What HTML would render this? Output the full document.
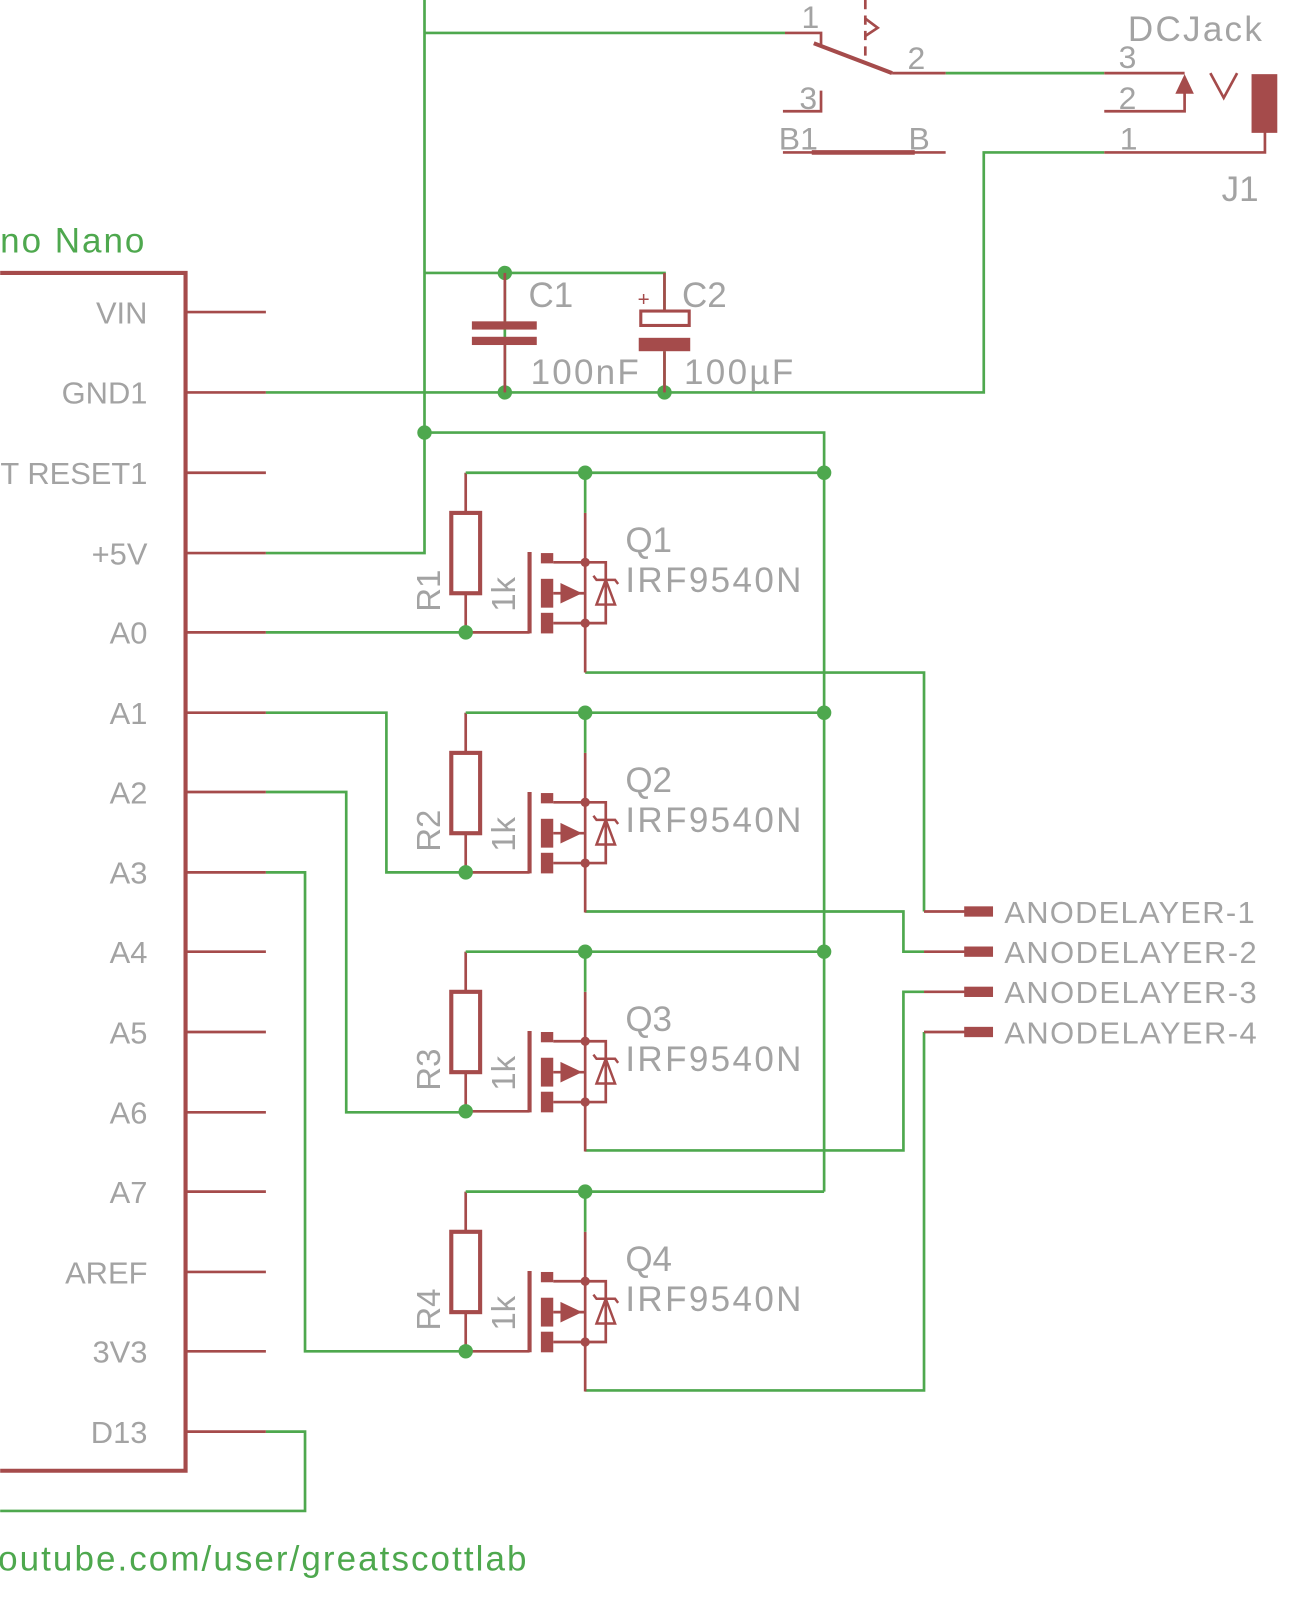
<!DOCTYPE html>
<html><head><meta charset="utf-8"><style>
html,body{margin:0;padding:0;background:#fff;width:1296px;height:1617px;overflow:hidden}
svg{display:block}
text{font-family:"Liberation Sans",sans-serif;fill:#a3a3a3}
.g{fill:#4ea84e}
</style></head><body>
<svg width="1296" height="1617" viewBox="0 0 1258 1570" xmlns="http://www.w3.org/2000/svg">
<defs>
<g id="q">
  <line x1="452" y1="0" x2="452" y2="39" stroke="#a54b4b" stroke-width="2.6"/>
  <rect x="438" y="39" width="28" height="78" fill="none" stroke="#a54b4b" stroke-width="4"/>
  <line x1="452" y1="117" x2="452" y2="155" stroke="#a54b4b" stroke-width="2.6"/>
  <line x1="452" y1="155" x2="514" y2="155" stroke="#a54b4b" stroke-width="2.6"/>
  <line x1="514" y1="77" x2="514" y2="156" stroke="#a54b4b" stroke-width="4"/>
  <rect x="525" y="78" width="12" height="10" fill="#a54b4b"/>
  <rect x="525" y="103" width="12" height="28" fill="#a54b4b"/>
  <rect x="525" y="136" width="12" height="20" fill="#a54b4b"/>
  <polyline points="537,87 568,87" stroke="#a54b4b" stroke-width="2.6" fill="none"/>
  <polyline points="537,146 568,146" stroke="#a54b4b" stroke-width="2.6" fill="none"/>
  <line x1="537" y1="117" x2="568" y2="117" stroke="#a54b4b" stroke-width="2.6"/>
  <polygon points="544,107 544,127 565,117" fill="#a54b4b"/>
  <line x1="568" y1="39" x2="568" y2="194" stroke="#a54b4b" stroke-width="2.6"/>
  <polyline points="568,87 588,87 588,146 568,146" stroke="#a54b4b" stroke-width="2.6" fill="none"/>
  <polygon points="588,104 579,128 597,128" fill="none" stroke="#a54b4b" stroke-width="2.4"/>
  <polyline points="576,100 579,104 597,104 600,108" stroke="#a54b4b" stroke-width="2.4" fill="none"/>
  <circle cx="568" cy="87" r="4.5" fill="#a54b4b"/>
  <circle cx="568" cy="146" r="4.5" fill="#a54b4b"/>
  <line x1="568" y1="0" x2="568" y2="39" stroke="#4ea84e" stroke-width="2.6"/>
  <line x1="452" y1="0" x2="800" y2="0" stroke="#4ea84e" stroke-width="2.6"/>
  <circle cx="568" cy="0" r="7" fill="#4ea84e"/>
  <circle cx="452" cy="155" r="7" fill="#4ea84e"/>
</g>
</defs>

<polyline points="0,265 180,265 180,1428 0,1428" fill="none" stroke="#a54b4b" stroke-width="4"/>
<text x="0" y="245" class="g" font-size="34" textLength="140">no Nano</text>
<g stroke="#a54b4b" stroke-width="2.6">
<line x1="180" y1="303" x2="258" y2="303"/><line x1="180" y1="381" x2="258" y2="381"/>
<line x1="180" y1="459" x2="258" y2="459"/><line x1="180" y1="537" x2="258" y2="537"/>
<line x1="180" y1="614" x2="258" y2="614"/><line x1="180" y1="692" x2="258" y2="692"/>
<line x1="180" y1="769" x2="258" y2="769"/><line x1="180" y1="847" x2="258" y2="847"/>
<line x1="180" y1="924" x2="258" y2="924"/><line x1="180" y1="1002" x2="258" y2="1002"/>
<line x1="180" y1="1080" x2="258" y2="1080"/><line x1="180" y1="1157" x2="258" y2="1157"/>
<line x1="180" y1="1235" x2="258" y2="1235"/><line x1="180" y1="1312" x2="258" y2="1312"/>
<line x1="180" y1="1390" x2="258" y2="1390"/>
</g>
<g font-size="30" text-anchor="end">
<text x="143" y="314">VIN</text><text x="143" y="392">GND1</text><text x="143" y="470">T RESET1</text>
<text x="143" y="548">+5V</text><text x="143" y="625">A0</text><text x="143" y="703">A1</text>
<text x="143" y="780">A2</text><text x="143" y="858">A3</text><text x="143" y="935">A4</text>
<text x="143" y="1013">A5</text><text x="143" y="1091">A6</text><text x="143" y="1168">A7</text>
<text x="143" y="1246">AREF</text><text x="143" y="1323">3V3</text><text x="143" y="1401">D13</text>
</g>

<g stroke="#4ea84e" stroke-width="2.6" fill="none">
<polyline points="258,537 412,537 412,0"/>
<polyline points="412,32 762,32"/>
<polyline points="412,420 800,420 800,1157"/>
<polyline points="412,265 645,265 645,302"/>
<polyline points="258,381 955,381 955,148 1072,148"/>
<line x1="490" y1="265" x2="490" y2="381"/>
<line x1="645" y1="341" x2="645" y2="381"/>
<polyline points="918,71 1072,71"/>
<polyline points="258,614 452,614"/>
<polyline points="258,692 375,692 375,847 452,847"/>
<polyline points="258,769 336,769 336,1080 452,1080"/>
<polyline points="258,847 296,847 296,1312 452,1312"/>
<polyline points="258,1390 296,1390 296,1467 0,1467"/>
<polyline points="568,653 897,653 897,885"/>
<polyline points="568,885 877,885 877,924 897,924"/>
<polyline points="568,1117 877,1117 877,963 897,963"/>
<polyline points="568,1350 897,1350 897,1002"/>
</g>
<g fill="#4ea84e">
<circle cx="412" cy="420" r="7"/><circle cx="490" cy="265" r="7"/><circle cx="490" cy="381" r="7"/>
<circle cx="645" cy="381" r="7"/><circle cx="800" cy="459" r="7"/><circle cx="800" cy="692" r="7"/>
<circle cx="800" cy="924" r="7"/>
</g>

<g fill="#a54b4b">
<rect x="458" y="312" width="63" height="8"/><rect x="458" y="327" width="63" height="8"/>
<rect x="620" y="328" width="50" height="13"/>
</g>
<line x1="490" y1="265" x2="490" y2="312" stroke="#a54b4b" stroke-width="2.6"/>
<line x1="490" y1="335" x2="490" y2="381" stroke="#a54b4b" stroke-width="2.6"/>
<line x1="645" y1="265" x2="645" y2="302" stroke="#a54b4b" stroke-width="2.6"/>
<line x1="645" y1="341" x2="645" y2="381" stroke="#a54b4b" stroke-width="2.6"/>
<rect x="622" y="302" width="47" height="14" fill="none" stroke="#a54b4b" stroke-width="3"/>
<text x="619" y="297" font-size="20" style="fill:#a54b4b">+</text>
<text x="513" y="298" font-size="34">C1</text>
<text x="515" y="373" font-size="34" textLength="105">100nF</text>
<text x="662" y="298" font-size="34">C2</text>
<text x="664" y="373" font-size="34" textLength="106">100µF</text>

<g stroke="#a54b4b" stroke-width="2.6" fill="none">
<polyline points="762,32 797,32 797,46"/>
<line x1="790" y1="42" x2="866" y2="71" stroke-width="4"/>
<line x1="866" y1="71" x2="918" y2="71"/>
<line x1="840" y1="0" x2="840" y2="58" stroke-dasharray="9,6"/>
<polyline points="840,18 852,27 840,35"/>
<polyline points="760,108 797,108 797,88"/>
<line x1="760" y1="148" x2="918" y2="148"/>
<line x1="788" y1="148" x2="888" y2="148" stroke-width="4.5"/>
<line x1="1072" y1="71" x2="1150" y2="71"/>
<polyline points="1175,71 1188,95 1201,71"/>
<polyline points="1072,108 1150,108 1150,90"/>
<polyline points="1072,148 1228,148 1228,128"/>
</g>
<polygon points="1150,72 1141,91 1159,91" fill="#a54b4b"/>
<rect x="1215" y="72" width="25" height="57" fill="#a54b4b"/>
<g font-size="31">
<text x="778" y="27">1</text><text x="776" y="106">3</text><text x="756" y="145">B1</text>
<text x="882" y="145">B</text><text x="881" y="67">2</text>
<text x="1086" y="66">3</text><text x="1086" y="106">2</text><text x="1087" y="145">1</text>
</g>
<text x="1095" y="40" font-size="34" textLength="130">DCJack</text>
<text x="1186" y="195" font-size="34">J1</text>

<use href="#q" transform="translate(0,459)"/>
<use href="#q" transform="translate(0,692)"/>
<use href="#q" transform="translate(0,924)"/>
<use href="#q" transform="translate(0,1157)"/>
<g font-size="34">
<text x="607" y="536">Q1</text><text x="607" y="575" textLength="171">IRF9540N</text>
<text x="607" y="769">Q2</text><text x="607" y="808" textLength="171">IRF9540N</text>
<text x="607" y="1001">Q3</text><text x="607" y="1040" textLength="171">IRF9540N</text>
<text x="607" y="1234">Q4</text><text x="607" y="1273" textLength="171">IRF9540N</text>
</g>
<g font-size="32">
<text transform="translate(427,594) rotate(-90)">R1</text><text transform="translate(500,594) rotate(-90)">1k</text>
<text transform="translate(427,827) rotate(-90)">R2</text><text transform="translate(500,827) rotate(-90)">1k</text>
<text transform="translate(427,1059) rotate(-90)">R3</text><text transform="translate(500,1059) rotate(-90)">1k</text>
<text transform="translate(427,1292) rotate(-90)">R4</text><text transform="translate(500,1292) rotate(-90)">1k</text>
</g>

<g stroke="#a54b4b" stroke-width="2.6">
<line x1="897" y1="885" x2="937" y2="885"/><line x1="897" y1="924" x2="937" y2="924"/>
<line x1="897" y1="963" x2="937" y2="963"/><line x1="897" y1="1002" x2="937" y2="1002"/>
</g>
<g fill="#a54b4b">
<rect x="936" y="880" width="28" height="10"/><rect x="936" y="919" width="28" height="10"/>
<rect x="936" y="958" width="28" height="10"/><rect x="936" y="997" width="28" height="10"/>
</g>
<g font-size="30">
<text x="975" y="896" textLength="243">ANODELAYER-1</text>
<text x="975" y="935" textLength="245">ANODELAYER-2</text>
<text x="975" y="974" textLength="245">ANODELAYER-3</text>
<text x="975" y="1013" textLength="245">ANODELAYER-4</text>
</g>

<text x="-2" y="1525" class="g" font-size="34" textLength="513">outube.com/user/greatscottlab</text>
</svg>
</body></html>
